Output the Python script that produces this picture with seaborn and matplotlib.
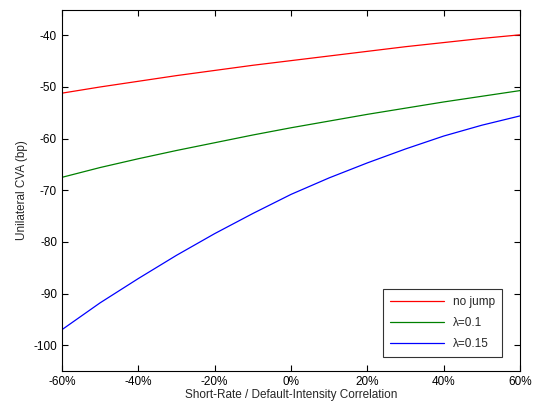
import numpy as np
import pandas as pd
import matplotlib
matplotlib.use("Agg")
import matplotlib.pyplot as plt
import seaborn as sns

correlation = [-60, -50, -40, -30, -20, -10, 0, 10, 20, 30, 40, 50, 60]
no_jump = [-51.2, -50.0, -48.9, -47.8, -46.8, -45.8, -44.9, -44.0, -43.1, -42.2, -41.4, -40.6, -39.9]
lam_01 = [-67.5, -65.6, -63.9, -62.3, -60.8, -59.3, -57.9, -56.6, -55.3, -54.1, -52.9, -51.8, -50.7]
lam_015 = [-97.0, -91.8, -87.1, -82.6, -78.4, -74.5, -70.8, -67.6, -64.7, -62.0, -59.5, -57.4, -55.6]
series_names = ["no jump", "λ=0.1", "λ=0.15"]
colors = ["#ff0000", "#008000", "#0000ff"]

df = pd.concat([
    pd.DataFrame({"x": correlation, "y": vals, "series": name})
    for name, vals in zip(series_names, [no_jump, lam_01, lam_015])
])

sns.set_style("white")
plt.rcParams['font.family'] = ['Liberation Sans', 'DejaVu Sans']
plt.rcParams['axes.unicode_minus'] = False

fig = plt.figure(figsize=(5.34, 4.08), dpi=100)
ax = fig.add_axes([0.116, 0.0907, 0.858, 0.886])
sns.lineplot(data=df, x="x", y="y", hue="series", palette=colors,
             hue_order=series_names, linewidth=0.9, ax=ax)

ax.set_xlim(-60, 60)
ax.set_ylim(-105, -35)
ax.set_xticks([-60, -40, -20, 0, 20, 40, 60])
ax.set_xticklabels([f"{v}%" for v in [-60, -40, -20, 0, 20, 40, 60]])
ax.set_yticks([-100, -90, -80, -70, -60, -50, -40])
ax.tick_params(direction="in", length=4, width=0.8, labelsize=8.5,
               top=True, right=True, bottom=True, left=True, colors="black")
for s in ax.spines.values():
    s.set_color("black")
    s.set_linewidth(0.8)
ax.set_xlabel("Short-Rate / Default-Intensity Correlation", fontsize=8.5, labelpad=1)
ax.set_ylabel("Unilateral CVA (bp)", fontsize=8.5, labelpad=4)

leg = ax.legend(loc="lower right", bbox_to_anchor=(0.961, 0.038), fontsize=8.5,
                frameon=True, fancybox=False, handlelength=4.5,
                borderpad=0.6, labelspacing=0.75, borderaxespad=0)
leg.get_frame().set_edgecolor("black")
leg.get_frame().set_linewidth(0.8)

fig.savefig("out.png", dpi=100)
